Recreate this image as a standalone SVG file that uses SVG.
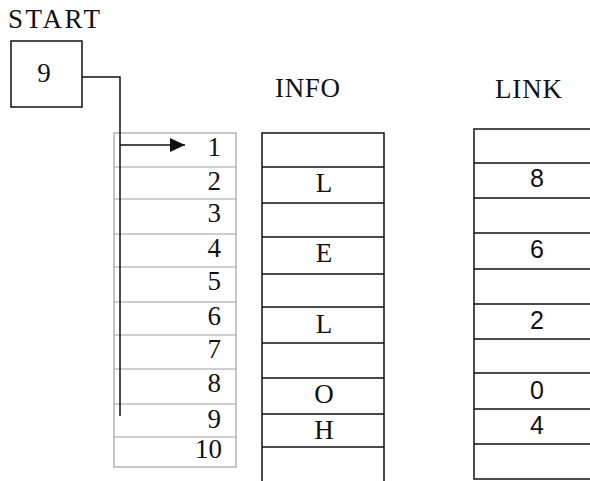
<svg xmlns="http://www.w3.org/2000/svg" width="590" height="481" viewBox="0 0 590 481">
  <style>
    .serif { font-family: "Liberation Serif", "Times New Roman", serif; font-size: 27px; fill: #111; }
    .sans { font-family: "Liberation Sans", Arial, sans-serif; font-size: 25px; fill: #111; }
    .box { fill: #fff; stroke: #111; stroke-width: 1.5; }
    .grid { stroke: #111; stroke-width: 1.5; fill: none; }
    .idx { stroke: #a0a0a0; stroke-width: 1.2; fill: none; }
    .wire { stroke: #111; stroke-width: 1.5; fill: none; }
  </style>
  <defs>
    <marker id="head" viewBox="0 0 15 14" refX="15" refY="7" markerWidth="15" markerHeight="14" markerUnits="userSpaceOnUse" orient="auto">
      <path d="M0,0 L15,7 L0,14 Z" fill="#111"/>
    </marker>
  </defs>
  <rect width="590" height="481" fill="#fff"/>

  <!-- START pointer cell -->
  <g id="start">
    <text class="serif" x="8" y="28" textLength="92">START</text>
    <rect class="box" x="11" y="41" width="71" height="66"/>
    <text class="serif" x="44" y="82" text-anchor="middle">9</text>
  </g>

  <!-- index column 1..10 -->
  <g id="index">
    <rect class="idx" x="114" y="133" width="122" height="334"/>
    <path class="idx" d="M114,167H236 M114,199H236 M114,234H236 M114,267H236 M114,302H236 M114,335H236 M114,369H236 M114,404H236 M114,437H236"/>
    <g class="serif" text-anchor="end">
      <text x="221" y="156">1</text>
      <text x="221" y="190">2</text>
      <text x="221" y="222">3</text>
      <text x="221" y="257">4</text>
      <text x="221" y="290">5</text>
      <text x="221" y="325">6</text>
      <text x="221" y="358">7</text>
      <text x="221" y="392">8</text>
      <text x="221" y="428">9</text>
      <text x="222" y="458">10</text>
    </g>
  </g>

  <!-- INFO array -->
  <g id="info">
    <text class="serif" x="275" y="97" textLength="65">INFO</text>
    <path class="grid" d="M262,481V133H384V481"/>
    <path class="grid" d="M262,167H384 M262,203H384 M262,237H384 M262,274H384 M262,307H384 M262,343H384 M262,378H384 M262,414H384 M262,447H384"/>
    <g class="serif" text-anchor="middle">
      <text x="324" y="192">L</text>
      <text x="324" y="262">E</text>
      <text x="324" y="333">L</text>
      <text x="324" y="403">O</text>
      <text x="324" y="439">H</text>
    </g>
  </g>

  <!-- LINK array -->
  <g id="link">
    <text class="serif" x="495" y="98" textLength="67">LINK</text>
    <path class="grid" d="M592,129H474V479H592"/>
    <path class="grid" d="M474,163H592 M474,198H592 M474,233H592 M474,269H592 M474,304H592 M474,339H592 M474,373H592 M474,409H592 M474,444H592"/>
    <g class="sans" text-anchor="middle">
      <text x="537" y="187">8</text>
      <text x="537" y="258">6</text>
      <text x="537" y="329">2</text>
      <text x="537" y="399">0</text>
      <text x="537" y="434">4</text>
    </g>
  </g>

  <!-- connectors -->
  <g id="connectors">
    <path class="wire" d="M82,77H120V416"/>
    <path class="wire" d="M120,145H185" marker-end="url(#head)"/>
  </g>
</svg>
